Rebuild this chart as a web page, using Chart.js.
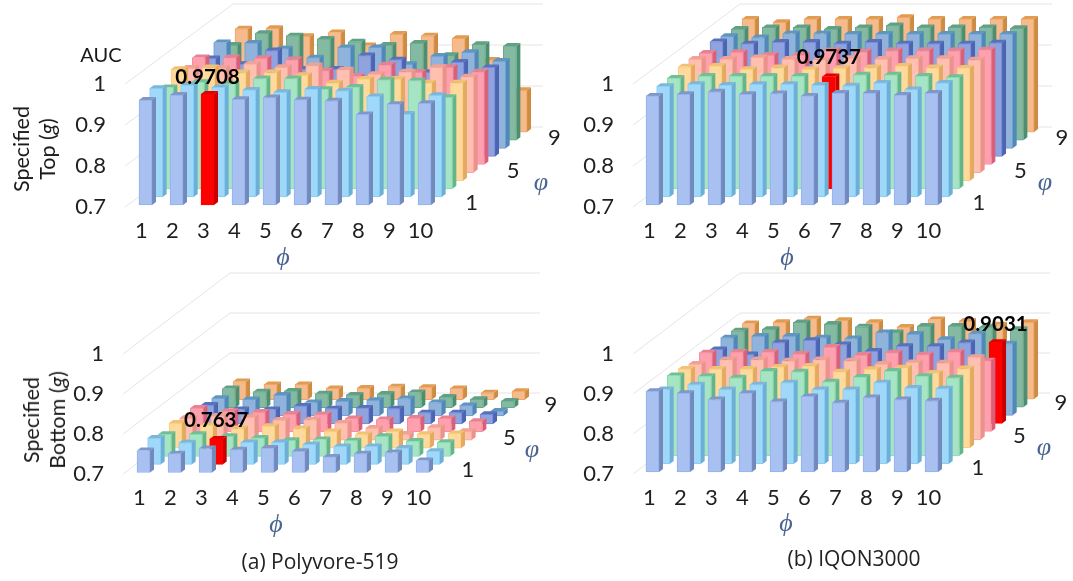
<!DOCTYPE html>
<html><head><meta charset="utf-8">
<style>
html,body{margin:0;padding:0;background:#fff;width:1073px;height:581px;overflow:hidden}
canvas{position:absolute;left:0;top:0;filter:blur(0.4px)}
.t{position:absolute;font-family:Lato,sans-serif;color:#1a1a1a;white-space:nowrap;line-height:1;transform:translate(-50%,-50%)}
.r{transform:translate(-50%,-50%) rotate(-90deg);font-size:21.5px;text-align:center;line-height:26px}
.c{font-family:"Open Sans",sans-serif;font-size:21px;color:#222}
</style></head><body>
<canvas id="a" width="1073" height="581"></canvas>
<canvas id="b" width="1073" height="581"></canvas>
<canvas id="c" width="1073" height="581"></canvas>
<canvas id="d" width="1073" height="581"></canvas>
<div class="t" style="left:101px;top:54px;font-size:20px">AUC</div>
<div class="t r" style="left:34px;top:149px">Specified<br>Top (<i>g</i>)</div>
<div class="t r" style="left:44px;top:420px">Specified<br>Bottom (<i>g</i>)</div>
<div class="t c" style="left:320px;top:561px">(a) Polyvore-519</div>
<div class="t c" style="left:854px;top:558px">(b) IQON3000</div>
<script src="https://cdn.jsdelivr.net/npm/chart.js@4"></script>
<script>
const phiLabels = ['1','2','3','4','5','6','7','8','9','10'];
const varphiLabels = ['1','5','9'];
const varphiRows = [0,4,8];
const yTicks = [0.7,0.8,0.9,1];
const frontColors = ['#A9C1F0','#9FD8F8','#A6E5C4','#FFDA9C','#FFC0B2','#FFA0AF','#8FA3DF','#8FB3DA','#84BAA2','#F6BB8C'];
const edgeColors  = ['#8FB2F0','#84CDF6','#86DCAE','#FCCB7C','#FBA898','#F88A9C','#6F88D8','#6E9ED2','#66A88A','#EFA668'];
const sideColors  = ['#7389BA','#6FAFD6','#62B68C','#E3AA62','#EA938C','#DA6079','#4C64B2','#5088B8','#4A8F72','#CE8C42'];
const topColors   = ['#8098C8','#7FB6D8','#72BF97','#F0C274','#F0A294','#E68292','#5772BA','#6095BE','#60A186','#E29C52'];
const bestColor = '#FF0000', bestSide = '#C80000', bestTop = '#E00000';

const polyvoreTop = [
 [.956,.968,.9708,.958,.962,.957,.954,.921,.946,.948],
 [.965,.973,.967,.961,.955,.963,.959,.945,.902,.948],
 [.947,.960,.956,.969,.969,.943,.948,.966,.964,.923],
 [.972,.976,.964,.964,.957,.939,.948,.948,.939,.939],
 [.955,.955,.965,.957,.961,.951,.940,.946,.957,.934],
 [.961,.961,.959,.956,.929,.916,.943,.925,.937,.926],
 [.939,.925,.958,.913,.913,.946,.936,.905,.930,.917],
 [.958,.957,.943,.921,.946,.946,.905,.925,.934,.913],
 [.932,.961,.955,.947,.940,.932,.937,.907,.934,.930],
 [.952,.953,.934,.943,.911,.939,.935,.929,.876,.802]];
const iqonTop = [
 [.966,.970,.976,.970,.972,.966,.973,.973,.968,.973],
 [.970,.975,.973,.975,.975,.973,.971,.978,.962,.978],
 [.970,.975,.975,.975,.975,.9737,.978,.978,.975,.972],
 [.978,.980,.972,.976,.972,.974,.976,.980,.976,.975],
 [.977,.977,.981,.977,.975,.979,.977,.979,.979,.975],
 [.972,.974,.967,.967,.978,.975,.978,.978,.978,.980],
 [.980,.975,.979,.979,.975,.979,.975,.975,.975,.977],
 [.973,.970,.980,.980,.979,.979,.979,.979,.979,.979],
 [.971,.975,.975,.971,.975,.980,.975,.975,.975,.973],
 [.976,.968,.976,.976,.976,.980,.976,.976,.976,.976]];
const polyvoreBottom = [
 [.755,.747,.760,.757,.761,.753,.739,.747,.750,.730],
 [.766,.754,.7637,.755,.755,.750,.745,.745,.741,.733],
 [.755,.755,.750,.746,.740,.742,.739,.750,.738,.735],
 [.763,.757,.749,.755,.749,.742,.734,.742,.735,.737],
 [.755,.760,.757,.750,.751,.743,.730,.715,.732,.722],
 [.760,.752,.750,.745,.744,.734,.731,.735,.734,.727],
 [.747,.736,.736,.745,.738,.740,.738,.728,.728,.724],
 [.744,.741,.752,.733,.737,.739,.743,.733,.726,.712],
 [.748,.740,.742,.735,.732,.734,.738,.727,.721,.717],
 [.745,.738,.738,.728,.729,.732,.731,.728,.717,.721]];
const iqonBottom = [
 [.902,.897,.881,.897,.876,.889,.873,.886,.881,.878],
 [.886,.898,.886,.898,.903,.886,.886,.903,.890,.888],
 [.901,.899,.895,.912,.910,.885,.897,.912,.899,.895],
 [.897,.897,.897,.902,.904,.890,.896,.900,.887,.898],
 [.889,.900,.900,.897,.900,.897,.889,.893,.892,.906],
 [.897,.899,.899,.894,.911,.891,.897,.892,.899,.877],
 [.885,.872,.902,.908,.897,.881,.893,.893,.902,.9031],
 [.894,.898,.898,.894,.892,.907,.903,.890,.904,.879],
 [.891,.895,.912,.908,.901,.887,.903,.903,.900,.895],
 [.889,.892,.901,.897,.892,.880,.899,.895,.886,.892]];

const ROW_DX = 10.67, ROW_DY = 8.1, SIDE_DX = 4, SIDE_DY = 3;
const GRID = '#E4E4E4', TICK = '#1f1f1f', GREEK = '#4A6590';
const FONT = 'Lato, sans-serif';

const prism3d = {
  id: 'prism3d',
  afterDatasetsUpdate(chart, _a, o) {
    chart.getSortedVisibleDatasetMetas().forEach(meta => {
      const r = meta.index;
      meta.data.forEach(el => {
        el.x += o.shiftX + r * ROW_DX;
        el.y -= o.lift + r * ROW_DY;
        el.base -= o.lift + r * ROW_DY;
      });
    });
  },
  beforeDatasetsDraw(chart, _a, o) {
    const ctx = chart.ctx, y = chart.scales.y;
    ctx.save();
    ctx.strokeStyle = GRID; ctx.lineWidth = 1;
    yTicks.forEach(v => {
      const py = y.getPixelForValue(v);
      ctx.beginPath();
      ctx.moveTo(o.gridLeft, py);
      ctx.lineTo(o.gridLeft + o.wallDx, py - o.wallDy);
      ctx.lineTo(o.gridRight, py - o.wallDy);
      ctx.stroke();
    });
    ctx.restore();
  },
  beforeDatasetDraw(chart, args, o) {
    const ctx = chart.ctx, meta = args.meta, r = meta.index;
    ctx.save();
    meta.data.forEach((el, i) => {
      const best = r === o.bestRow && i === o.bestCol;
      const L = el.x - el.width / 2, R = el.x + el.width / 2;
      ctx.fillStyle = best ? bestSide : sideColors[r];
      ctx.beginPath();
      ctx.moveTo(R, el.y); ctx.lineTo(R + SIDE_DX, el.y - SIDE_DY);
      ctx.lineTo(R + SIDE_DX, el.base - SIDE_DY); ctx.lineTo(R, el.base);
      ctx.closePath(); ctx.fill();
      ctx.fillStyle = best ? bestTop : topColors[r];
      ctx.beginPath();
      ctx.moveTo(L, el.y); ctx.lineTo(L + SIDE_DX, el.y - SIDE_DY);
      ctx.lineTo(R + SIDE_DX, el.y - SIDE_DY); ctx.lineTo(R, el.y);
      ctx.closePath(); ctx.fill();
    });
    ctx.restore();
  },
  afterDatasetsDraw(chart, _a, o) {
    const ctx = chart.ctx;
    const el = chart.getDatasetMeta(o.bestRow).data[o.bestCol];
    ctx.save();
    ctx.textAlign = 'center'; ctx.textBaseline = 'middle';
    ctx.fillStyle = '#000';
    ctx.font = 'bold 20.5px ' + FONT;
    ctx.fillText(o.bestText, el.x + o.labelDx, el.y + o.labelDy);
    ctx.fillStyle = TICK;
    ctx.font = '22px ' + FONT;
    varphiRows.forEach((row, k) => {
      ctx.fillText(varphiLabels[k], o.depthX + row * ROW_DX * 0.97, o.depthY - row * ROW_DY);
    });
    ctx.fillStyle = GREEK;
    ctx.font = 'italic 26px "Liberation Serif", serif';
    ctx.fillText('\u03C6', o.varphiX, o.varphiY);
    ctx.fillText('\u03D5', o.phiX, o.phiY);
    ctx.restore();
  }
};

function build(id, rows, g) {
  const best = {row: g.bestRow, col: g.bestCol};
  const datasets = rows.map((vals, r) => ({
    label: 'φ ' + (r + 1),
    data: vals,
    base: 0.7,
    clip: false,
    backgroundColor: vals.map((_, i) => r === best.row && i === best.col ? bestColor : frontColors[r]),
    borderColor: vals.map((_, i) => r === best.row && i === best.col ? bestColor : edgeColors[r]),
    borderWidth: 1,
    borderSkipped: false,
    barThickness: 13,
    grouped: false
  }));
  new Chart(document.getElementById(id), {
    type: 'bar',
    data: {labels: phiLabels, datasets},
    plugins: [prism3d],
    options: {
      responsive: false, animation: false,
      events: [],
      layout: {padding: {left: 0, top: g.top, right: 1073 - g.right, bottom: 581 - g.bottom - 50}},
      plugins: {legend: {display: false}, tooltip: {enabled: false}, title: {display: false},
        prism3d: g},
      scales: {
        x: {
          grid: {display: false}, border: {display: false},
          ticks: {autoSkip: false, maxRotation: 0, padding: g.xPad, color: TICK, font: {family: FONT, size: 22}},
          afterFit: s => { s.height = 50; }
        },
        y: {
          min: 0.7, max: 1,
          grid: {display: false}, border: {display: false},
          ticks: {stepSize: 0.1, padding: g.yPad, color: TICK, font: {family: FONT, size: 22},
                  callback: v => String(+v.toFixed(1))},
          afterFit: s => { s.width = g.left; }
        }
      }
    }
  });
}

Chart.defaults.font.family = FONT;
build('a', polyvoreTop, {left:126, right:436, top:84, bottom:207, shiftX:4, lift:2, xPad:3, yPad:12,
  gridLeft:125, gridRight:543, wallDx:108, wallDy:80, bestRow:0, bestCol:2, bestText:'0.9708', labelDx:0, labelDy:-17,
  depthX:471.7, depthY:203, varphiX:541, varphiY:183, phiX:283, phiY:258});
build('b', iqonTop, {left:634, right:944, top:84, bottom:207, shiftX:3, lift:2, xPad:3, yPad:12,
  gridLeft:633, gridRight:1052, wallDx:107, wallDy:80, bestRow:2, bestCol:5, bestText:'0.9737', labelDx:0, labelDy:-19,
  depthX:979, depthY:203, varphiX:1045, varphiY:183, phiX:787, phiY:258});
build('c', polyvoreBottom, {left:124, right:434, top:354, bottom:474, shiftX:4, lift:1.5, xPad:3, yPad:12,
  gridLeft:123, gridRight:540, wallDx:107, wallDy:81, bestRow:1, bestCol:2, bestText:'0.7637', labelDx:0, labelDy:-19,
  depthX:468, depthY:470, varphiX:532, varphiY:450, phiX:276, phiY:525});
build('d', iqonBottom, {left:634, right:944, top:354, bottom:474, shiftX:3, lift:2, xPad:3, yPad:12,
  gridLeft:633, gridRight:1050, wallDx:107, wallDy:81, bestRow:6, bestCol:9, bestText:'0.9031', labelDx:0, labelDy:-18,
  depthX:978, depthY:468, varphiX:1044, varphiY:448, phiX:786, phiY:524});
</script>
</body></html>
